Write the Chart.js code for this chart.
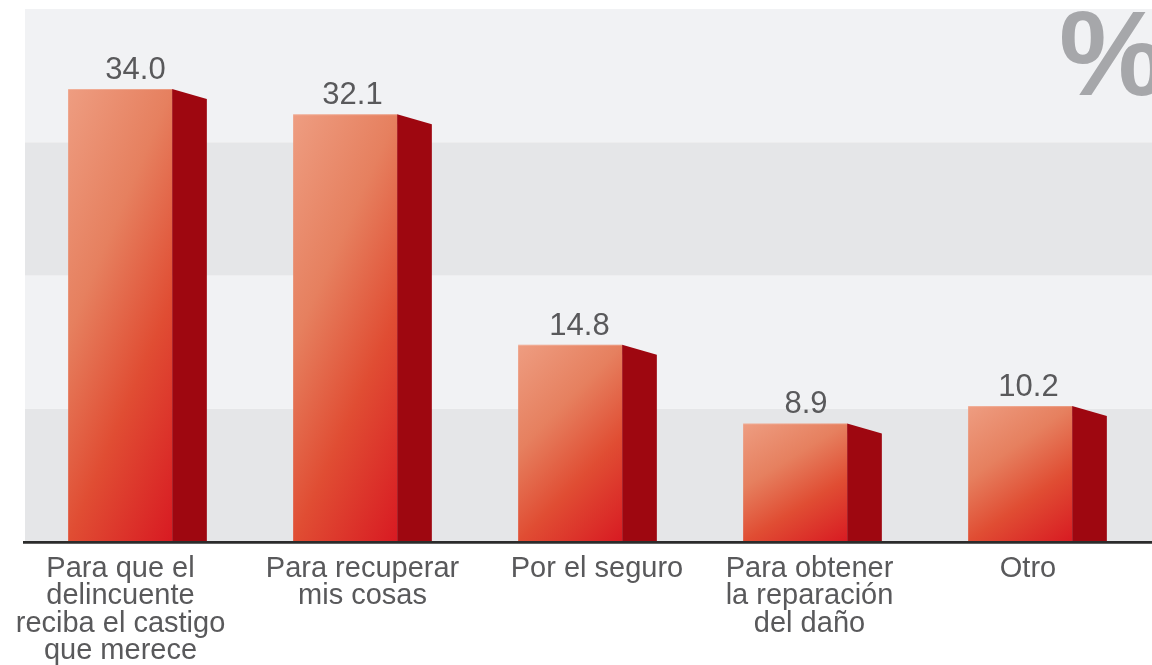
<!DOCTYPE html>
<html>
<head>
<meta charset="utf-8">
<script src="https://cdn.jsdelivr.net/npm/chart.js@4.4.1/dist/chart.umd.min.js"></script>
<style>
  html, body { margin: 0; padding: 0; background: #ffffff; }
  #wrap { width: 1152px; height: 665px; }
</style>
</head>
<body>
<div id="wrap"><canvas id="c" width="1152" height="665"></canvas></div>
<script>
// Reasons for reporting the crime (%)
const categories = [
  ["Para que el", "delincuente", "reciba el castigo", "que merece"],
  ["Para recuperar", "mis cosas"],
  ["Por el seguro"],
  ["Para obtener", "la reparación", "del daño"],
  ["Otro"]
];
const values = [34.0, 32.1, 14.8, 8.9, 10.2];
const bandTicks = [0, 10, 20, 30, 40];
const unitSign = "%";

// Layout and style
const FRONT_W = 104;          // front face width
const DEPTH_X = 34.7;         // side face depth
const DEPTH_Y = 10;           // side face slant drop
const categoryNudge = [-17, 0, 9.5, -3, -9.5];
const valueNudge = [-2, -10, -8, -6.5, -9];
const BAND_LIGHT = "#f1f2f4";
const BAND_DARK = "#e5e6e8";
const SIDE_COLOR = "#9e0710";
const TEXT_COLOR = "#59595b";
const FONT = "'Liberation Sans', Arial, sans-serif";

const threeDBars = {
  id: "threeDBars",
  afterDatasetsUpdate(chart) {
    const meta = chart.getDatasetMeta(0);
    const ctx = chart.ctx;
    meta.data.forEach((el) => {
      // centre front + side block on its category
      el.x -= DEPTH_X / 2;
      const L = el.x - el.width / 2, T = el.y;
      const w = el.width, h = el.base - el.y;
      const a = 0.35, b = 0.65;
      const dx = a / w, dy = b / h, n2 = dx * dx + dy * dy;
      const g = ctx.createLinearGradient(L, T, L + dx / n2, T + dy / n2);
      g.addColorStop(0, "#ee9d81");
      g.addColorStop(0.35, "#e6805f");
      g.addColorStop(0.65, "#e04d33");
      g.addColorStop(1, "#d81a22");
      el.options = Object.assign({}, el.options, { backgroundColor: g });
    });
  },
  beforeDatasetsDraw(chart) {
    const { ctx, chartArea, scales } = chart;
    const y = scales.y;
    ctx.save();
    for (let i = 0; i < bandTicks.length - 1; i++) {
      const y0 = y.getPixelForValue(bandTicks[i]);
      const y1 = y.getPixelForValue(bandTicks[i + 1]);
      ctx.fillStyle = i % 2 === 0 ? BAND_DARK : BAND_LIGHT;
      ctx.fillRect(chartArea.left, y1, chart.width - chartArea.left, y0 - y1);
    }
    // large unit sign in the corner
    ctx.beginPath();
    ctx.rect(0, chartArea.top, chart.width, chartArea.bottom - chartArea.top);
    ctx.clip();
    ctx.fillStyle = "#a6a7aa";
    ctx.font = "bold 120px " + FONT;
    ctx.textAlign = "left";
    ctx.textBaseline = "alphabetic";
    ctx.fillText(unitSign, 1059, 95);
    ctx.restore();
  },
  afterDatasetsDraw(chart) {
    const { ctx, chartArea, scales } = chart;
    const meta = chart.getDatasetMeta(0);
    ctx.save();
    meta.data.forEach((el, i) => {
      const R = el.x + el.width / 2;
      // side face
      ctx.fillStyle = SIDE_COLOR;
      ctx.beginPath();
      ctx.moveTo(R, el.y);
      ctx.lineTo(R + DEPTH_X, el.y + DEPTH_Y);
      ctx.lineTo(R + DEPTH_X, el.base);
      ctx.lineTo(R, el.base);
      ctx.closePath();
      ctx.fill();
      // soft highlight along the top edge of the front face
      ctx.fillStyle = "rgba(255,255,255,0.22)";
      ctx.fillRect(el.x - el.width / 2, el.y, el.width, 1);
      // value label
      ctx.fillStyle = TEXT_COLOR;
      ctx.font = "31px " + FONT;
      ctx.textAlign = "center";
      ctx.textBaseline = "alphabetic";
      ctx.fillText(values[i].toFixed(1), scales.x.getPixelForValue(i) + valueNudge[i], el.y - 10);
    });
    // baseline axis
    const by = scales.y.getPixelForValue(0);
    ctx.strokeStyle = "#2b2b2b";
    ctx.lineWidth = 2.6;
    ctx.beginPath();
    ctx.moveTo(chartArea.left - 2, by + 0.4);
    ctx.lineTo(chart.width, by + 0.4);
    ctx.stroke();
    // category labels
    ctx.fillStyle = TEXT_COLOR;
    ctx.font = "29px " + FONT;
    ctx.textAlign = "center";
    categories.forEach((lines, i) => {
      const cx = scales.x.getPixelForValue(i) + categoryNudge[i];
      lines.forEach((line, k) => {
        ctx.fillText(line, cx, by + 35 + k * 27.3);
      });
    });
    ctx.restore();
  }
};

new Chart(document.getElementById("c"), {
  type: "bar",
  data: {
    labels: categories,
    datasets: [{
      data: values,
      backgroundColor: "#e4704f",
      borderWidth: 0,
      barPercentage: FRONT_W / 225,
      categoryPercentage: 1
    }]
  },
  options: {
    responsive: false,
    devicePixelRatio: 1,
    animation: false,
    layout: { padding: { left: 25, right: 2, top: 9, bottom: 123 } },
    scales: {
      x: { type: "category", display: false },
      y: { display: false, min: bandTicks[0], max: bandTicks[bandTicks.length - 1] }
    },
    plugins: { legend: { display: false }, tooltip: { enabled: false } }
  },
  plugins: [threeDBars]
});
</script>
</body>
</html>
